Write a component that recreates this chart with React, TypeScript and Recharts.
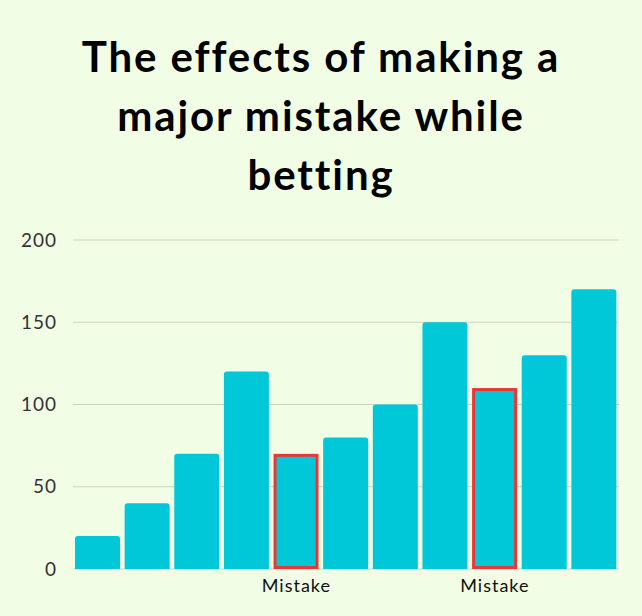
import { BarChart, Bar, XAxis, YAxis, CartesianGrid, Rectangle } from 'recharts';

const titleLines = ['The effects of making a', 'major mistake while', 'betting'];
const tickLabels = ['', '', '', '', 'Mistake', '', '', '', 'Mistake', '', ''];
const values = [20, 40, 70, 120, 70, 80, 100, 150, 110, 130, 170];
const mistakes = [false, false, false, false, true, false, false, false, true, false, false];
const yTicks = [0, 50, 100, 150, 200];

const data = tickLabels.map((label, i) => ({ label, value: values[i], mistake: mistakes[i] }));

const BG = '#F2FDE5';
const CYAN = '#00C8D8';
const RED = '#E53935';

function BarShape(props: any) {
  const { x, y, width, height, payload } = props;
  if (payload.mistake) {
    return (
      <rect
        x={x + 1.5}
        y={y + 1.5}
        width={width - 3}
        height={height - 3}
        fill={CYAN}
        stroke={RED}
        strokeWidth={3}
      />
    );
  }
  return <Rectangle x={x} y={y} width={width} height={height} fill={CYAN} radius={[3, 3, 0, 0]} />;
}

export default function App() {
  return (
    <div style={{ position: 'relative', width: 642, height: 616, background: BG, overflow: 'hidden' }}>
      <style>{`body{margin:0;background:${BG}}`}</style>
      <div
        style={{
          position: 'absolute',
          top: 27,
          left: 0,
          width: 642,
          textAlign: 'center',
          fontFamily: 'Lato, sans-serif',
          fontWeight: 700,
          fontSize: 42,
          letterSpacing: '1.9px',
          lineHeight: '59px',
          color: '#000',
        }}
      >
        {titleLines.map((line) => (
          <div key={line}>{line}</div>
        ))}
      </div>
      <div style={{ position: 'absolute', top: 0, left: 0 }}>
        <BarChart
          width={642}
          height={616}
          data={data}
          margin={{ top: 240, right: 23, left: 0, bottom: 0 }}
          barSize={45}
        >
          <CartesianGrid vertical={false} stroke="#C9D3C2" strokeWidth={1.2} />
          <XAxis
            dataKey="label"
            height={47}
            axisLine={false}
            tickLine={false}
            tickSize={0}
            tickMargin={10}
            interval={0}
            tick={{ fill: '#111', fontSize: 18, letterSpacing: 1, fontFamily: 'Lato, sans-serif' }}
          />
          <YAxis
            width={73}
            domain={[0, 200]}
            ticks={yTicks}
            axisLine={false}
            tickLine={false}
            tickSize={0}
            tickMargin={16}
            tick={{ fill: '#333', fontSize: 19, letterSpacing: 1, fontFamily: 'Lato, sans-serif' }}
          />
          <Bar dataKey="value" shape={BarShape} isAnimationActive={false} />
        </BarChart>
      </div>
    </div>
  );
}
